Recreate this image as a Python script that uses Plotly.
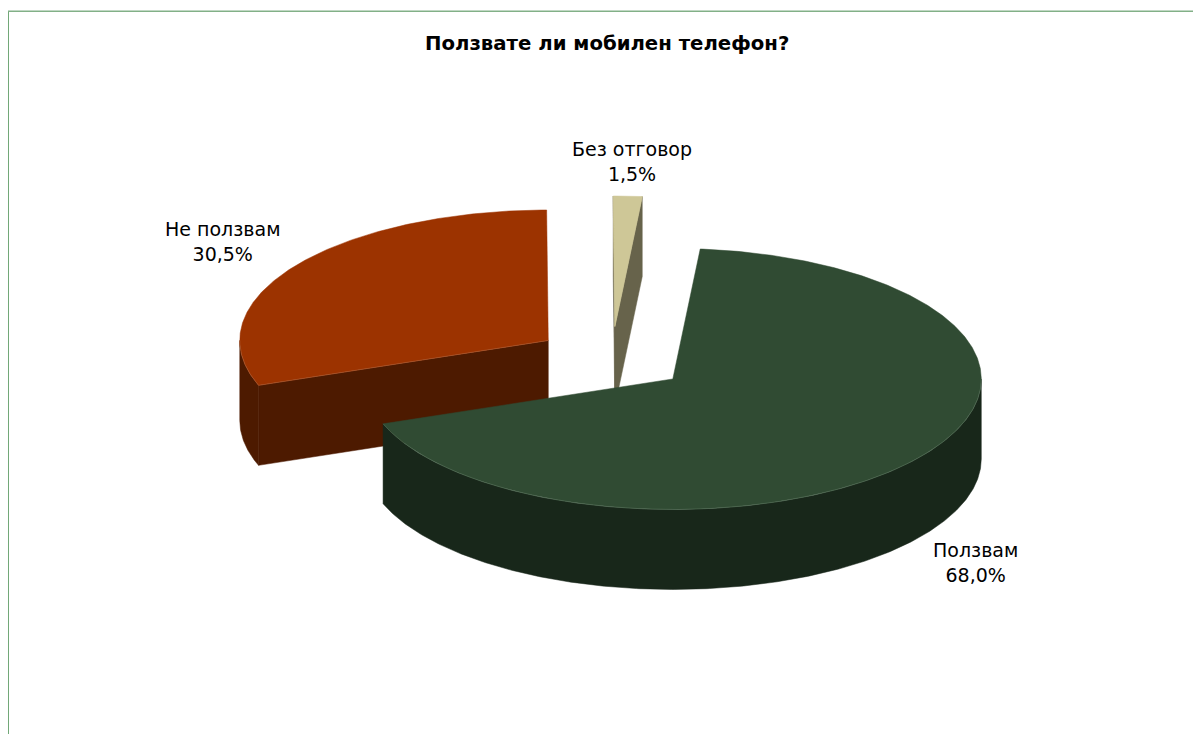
import math
import plotly.graph_objects as go

# Survey answers, listed clockwise from the first slice
categories = ["Ползвам", "Не ползвам", "Без отговор"]
shares = [68.0, 30.5, 1.5]
top_colors = ["#304b33", "#9c3300", "#cec797"]
wall_colors = ["#18271a", "#4d1a00", "#67634b"]
seam_colors = ["#5f7a63", "#b5683f", "#cec797"]
label_positions = [(975, 562), (222.5, 241), (632, 161)]

chart_title = "Ползвате ли мобилен телефон?"

# Projection of the tilted pie onto the page, in pixels
WIDTH, HEIGHT = 1193, 734
CENTER_X, CENTER_Y = 611.6, 359.1
RADIUS_X, RADIUS_Y = 308.5, 130.5
DEPTH = 80
EXPLODE = 0.25
FIRST_ANGLE = 5.1
ARC_STEP = 0.5


def rim(cx, cy, angle, drop=0.0):
    """Point on the slice rim; angles run clockwise from twelve o'clock."""
    rad = math.radians(angle)
    return cx + RADIUS_X * math.sin(rad), cy - RADIUS_Y * math.cos(rad) + drop


def arc(cx, cy, start, end, drop=0.0):
    steps = max(2, int(abs(end - start) / ARC_STEP))
    return [rim(cx, cy, start + (end - start) * i / steps, drop) for i in range(steps + 1)]


def polygon(fig, points, fill):
    xs, ys = zip(*points)
    fig.add_trace(go.Scatter(
        x=list(xs) + [xs[0]], y=list(ys) + [ys[0]], mode="lines", fill="toself",
        fillcolor=fill, line=dict(color=fill, width=0.5), hoverinfo="skip", showlegend=False,
    ))


def seam(fig, points, color):
    xs, ys = zip(*points)
    fig.add_trace(go.Scatter(
        x=list(xs), y=list(ys), mode="lines", line=dict(color=color, width=0.5),
        hoverinfo="skip", showlegend=False,
    ))


# Turn shares into angular spans and exploded slice centres
slices = []
angle = FIRST_ANGLE
for share, top, wall, edge in zip(shares, top_colors, wall_colors, seam_colors):
    sweep = share / sum(shares) * 360
    start, end = angle, angle + sweep
    mid = math.radians((start + end) / 2)
    cx = CENTER_X + EXPLODE * RADIUS_X * math.sin(mid)
    cy = CENTER_Y - EXPLODE * RADIUS_Y * math.cos(mid)
    slices.append(dict(start=start, end=end, cx=cx, cy=cy, top=top, wall=wall, edge=edge))
    angle = end

fig = go.Figure()

# Paint from the back of the pie to the front
for s in sorted(slices, key=lambda item: item["cy"]):
    cx, cy = s["cx"], s["cy"]
    seams = []
    # Cut faces that turn towards the viewer
    for face, visible in ((s["start"], math.sin(math.radians(s["start"])) < 0),
                          (s["end"], math.sin(math.radians(s["end"])) > 0)):
        if visible:
            outer = rim(cx, cy, face)
            polygon(fig, [(cx, cy), outer, (outer[0], outer[1] + DEPTH), (cx, cy + DEPTH)], s["wall"])
            seams.append([(cx, cy), outer])
    # Front-facing part of the outer rim
    low, high = max(s["start"], 90), min(s["end"], 270)
    if low < high:
        polygon(fig, arc(cx, cy, low, high) + arc(cx, cy, high, low, DEPTH), s["wall"])
        seams.append(arc(cx, cy, low, high))
    # Top surface, then the lighter seams where it meets the walls
    polygon(fig, [(cx, cy)] + arc(cx, cy, s["start"], s["end"]), s["top"])
    for points in seams:
        seam(fig, points, s["edge"])

annotations = [
    dict(x=x, y=y, text=f"{name}<br>{share:.1f}%".replace(".", ","), showarrow=False,
         font=dict(family="DejaVu Sans", size=19, color="#000000"), align="center")
    for name, share, (x, y) in zip(categories, shares, label_positions)
]
annotations.append(dict(x=606.5, y=43, text=f"<b>{chart_title}</b>", showarrow=False,
                        font=dict(family="DejaVu Sans", size=19.7, color="#000000")))

fig.update_layout(
    width=WIDTH, height=HEIGHT, margin=dict(l=0, r=0, t=0, b=0),
    paper_bgcolor="#ffffff", plot_bgcolor="#ffffff", annotations=annotations,
    xaxis=dict(range=[0, WIDTH], visible=False, fixedrange=True),
    yaxis=dict(range=[HEIGHT, 0], visible=False, fixedrange=True),
    shapes=[
        dict(type="line", x0=8.5, x1=8.5, y0=11, y1=HEIGHT, line=dict(color="#72a878", width=1)),
        dict(type="line", x0=8, x1=WIDTH, y0=11.2, y1=11.2, line=dict(color="#82b087", width=1.4)),
    ],
)

fig.write_html("out.html", config=dict(displayModeBar=False))
